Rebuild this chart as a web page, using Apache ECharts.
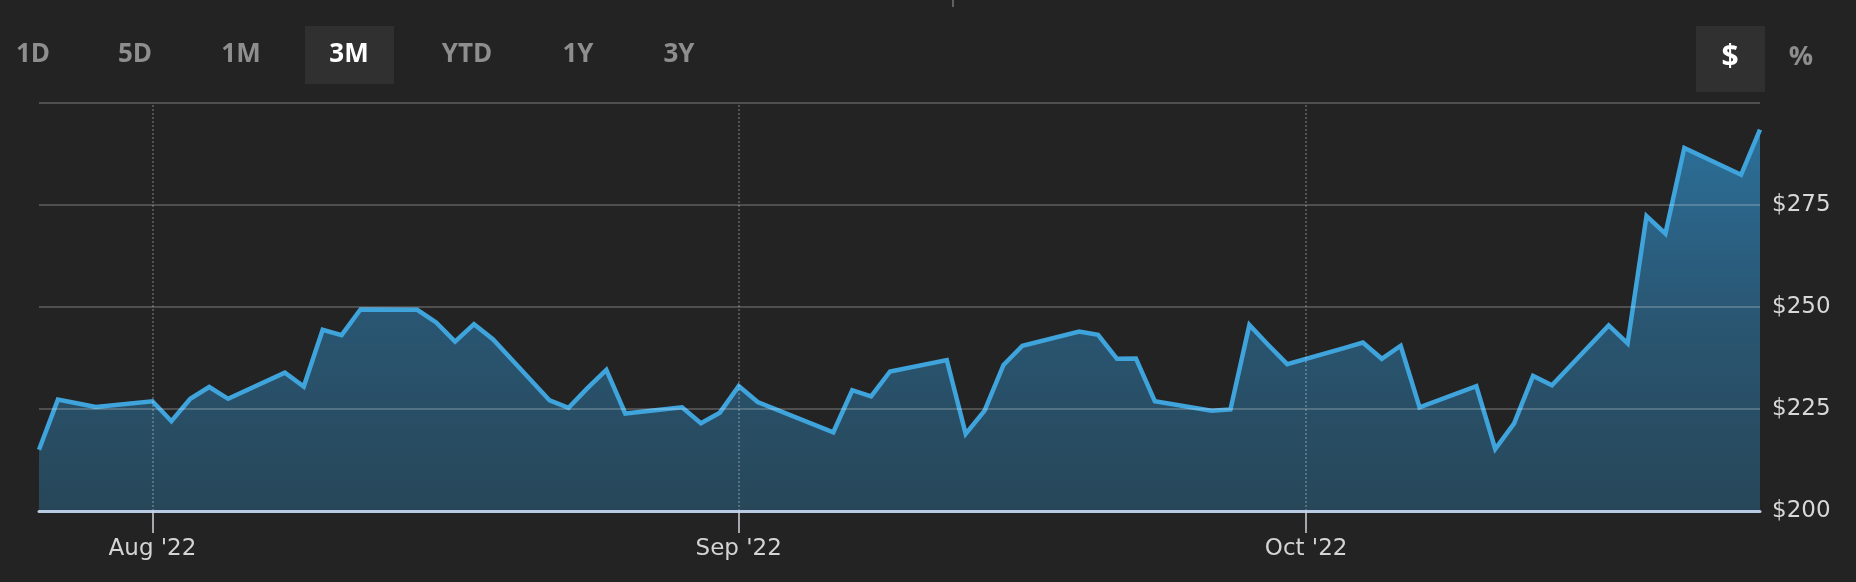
<!DOCTYPE html>
<html>
<head>
<meta charset="utf-8">
<script src="https://cdn.jsdelivr.net/npm/echarts@6/dist/echarts.min.js"></script>
<style>
  html, body { margin: 0; padding: 0; background: #232323; }
  #chart { width: 1856px; height: 582px; }
</style>
</head>
<body>
<div id="chart"></div>
<script>
// ---- data ----
const dates = [
  '2022-07-26','2022-07-27','2022-07-28','2022-07-29',
  '2022-08-01','2022-08-02','2022-08-03','2022-08-04','2022-08-05',
  '2022-08-08','2022-08-09','2022-08-10','2022-08-11','2022-08-12',
  '2022-08-15','2022-08-16','2022-08-17','2022-08-18','2022-08-19',
  '2022-08-22','2022-08-23','2022-08-24','2022-08-25','2022-08-26',
  '2022-08-29','2022-08-30','2022-08-31','2022-09-01','2022-09-02',
  '2022-09-06','2022-09-07','2022-09-08','2022-09-09',
  '2022-09-12','2022-09-13','2022-09-14','2022-09-15','2022-09-16',
  '2022-09-19','2022-09-20','2022-09-21','2022-09-22','2022-09-23',
  '2022-09-26','2022-09-27','2022-09-28','2022-09-29','2022-09-30',
  '2022-10-03','2022-10-04','2022-10-05','2022-10-06','2022-10-07',
  '2022-10-10','2022-10-11','2022-10-12','2022-10-13','2022-10-14',
  '2022-10-17','2022-10-18','2022-10-19','2022-10-20','2022-10-21',
  '2022-10-24','2022-10-25'
];
const prices = [
  215.0, 227.3, 226.4, 225.5,
  226.9, 222.0, 227.5, 230.4, 227.5,
  233.9, 230.5, 244.4, 243.1, 249.4,
  249.3, 246.2, 241.5, 245.8, 242.1,
  227.1, 225.3, 230.1, 234.6, 223.9,
  225.4, 221.5, 224.1, 230.6, 226.7,
  219.3, 229.6, 228.1, 234.2,
  237.0, 218.9, 224.6, 235.8, 240.5,
  244.0, 243.2, 237.3, 237.4, 226.9,
  224.6, 224.9, 245.6, 240.7, 236.0,
  239.9, 241.3, 237.3, 240.5, 225.4,
  230.6, 215.2, 221.5, 233.1, 230.8,
  245.5, 241.1, 272.3, 268.0, 289.0,
  282.4, 293.5
];
const monthTicks = ['2022-08-01', '2022-09-01', '2022-10-01'];
const monthLabels = ["Aug '22", "Sep '22", "Oct '22"];
const rangeButtons = ['1D', '5D', '1M', '3M', 'YTD', '1Y', '3Y'];
const activeButton = '3M';
const unitButtons = ['$', '%'];
const activeUnit = '$';
const yMin = 200, yMax = 300, yStep = 25;
const xStart = '2022-07-26', xEnd = '2022-10-25';

// ---- helpers ----
function toTs(s) {
  const p = s.split('-').map(Number);
  return Date.UTC(p[0], p[1] - 1, p[2]);
}
const seriesData = dates.map((d, i) => [toTs(d), prices[i]]);
const tickTs = monthTicks.map(toTs);

const chart = echarts.init(document.getElementById('chart'), null, { renderer: 'canvas' });

// buttons (graphic)
const btnCenters = [33, 135, 241, 349, 467, 578, 679];
const graphics = [];
rangeButtons.forEach((b, i) => {
  if (b === activeButton) {
    graphics.push({ type: 'rect', shape: { x: 305, y: 26, width: 89, height: 58 }, style: { fill: '#303030' }, silent: true });
  }
});
rangeButtons.forEach((b, i) => {
  graphics.push({
    type: 'text', x: btnCenters[i], y: 55, silent: true,
    style: {
      text: b, textAlign: 'center', textVerticalAlign: 'middle',
      fontFamily: 'Open Sans', fontWeight: 'bold', fontSize: 26,
      fill: b === activeButton ? '#ffffff' : '#8e8e8e'
    }
  });
});
graphics.push({ type: 'rect', shape: { x: 1696, y: 26, width: 69, height: 66 }, style: { fill: '#303030' }, silent: true });
const unitCenters = [1730, 1801];
unitButtons.forEach((u, i) => {
  graphics.push({
    type: 'text', x: unitCenters[i], y: 57, silent: true,
    style: {
      text: u, textAlign: 'center', textVerticalAlign: 'middle',
      fontFamily: 'Open Sans', fontWeight: 'bold', fontSize: u === '$' ? 30 : 27,
      fill: u === activeUnit ? '#ffffff' : '#8e8e8e'
    }
  });
});
graphics.push({ type: 'line', shape: { x1: 953, y1: 0, x2: 953, y2: 7 }, style: { stroke: '#777777', lineWidth: 1.5 }, silent: true });

const option = {
  backgroundColor: '#232323',
  animation: false,
  graphic: graphics,
  grid: { left: 39, right: 96, top: 103, bottom: 71, containLabel: false },
  xAxis: {
    type: 'value',
    min: toTs(xStart),
    max: toTs(xEnd),
    z: 6,
    axisLine: { show: true, lineStyle: { color: '#b9cbe4', width: 3 } },
    axisTick: {
      show: true, inside: false, length: 22, customValues: tickTs,
      lineStyle: { color: '#d0d4da', width: 1.5 }
    },
    axisLabel: {
      show: true, customValues: tickTs, margin: 27,
      color: '#d4d4d4', fontSize: 23, fontFamily: 'DejaVu Sans',
      formatter: function (v) {
        const idx = tickTs.indexOf(v);
        return idx >= 0 ? monthLabels[idx] : '';
      }
    },
    splitLine: { show: false }
  },
  yAxis: {
    type: 'value',
    position: 'right',
    min: yMin, max: yMax, interval: yStep,
    z: 5,
    axisLine: { show: false },
    axisTick: { show: false },
    axisLabel: {
      margin: 12, color: '#d8d8d8', fontSize: 23, fontFamily: 'DejaVu Sans',
      formatter: function (v) { return v === yMax ? '' : '$' + v; }
    },
    splitLine: { show: true, lineStyle: { color: 'rgba(255,255,255,0.2)', width: 2 } }
  },
  series: [{
    type: 'line',
    data: seriesData,
    showSymbol: false,
    smooth: false,
    lineStyle: { color: '#3fa3dc', width: 4.5, join: 'miter' },
    areaStyle: {
      color: new echarts.graphic.LinearGradient(0, 0, 0, 1, [
        { offset: 0, color: '#3090cc' },
        { offset: 0.5, color: '#2c6b93' },
        { offset: 1, color: '#295670' }
      ])
    },
    markLine: {
      silent: true,
      symbol: 'none',
      label: { show: false },
      lineStyle: { color: 'rgba(255,255,255,0.22)', type: 'dotted', width: 2 },
      data: tickTs.map(t => ({ xAxis: t }))
    }
  }]
};
chart.setOption(option);
</script>
</body>
</html>
